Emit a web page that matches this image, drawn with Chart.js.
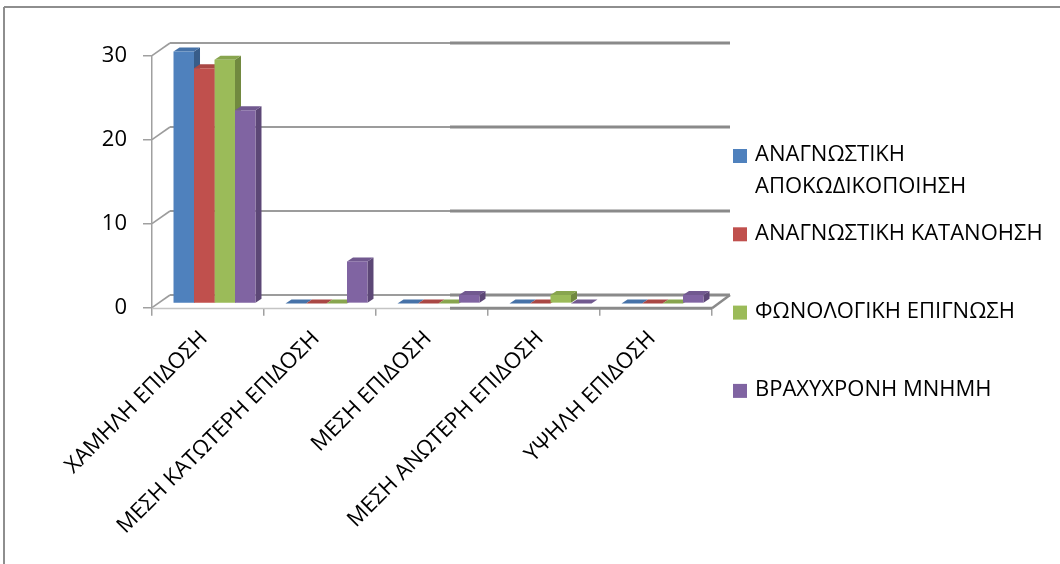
<!DOCTYPE html>
<html>
<head>
<meta charset="utf-8">
<script src="https://cdn.jsdelivr.net/npm/chart.js@4.4.1/dist/chart.umd.min.js"></script>
<style>
  html, body { margin: 0; padding: 0; background: #ffffff; }
  #wrap { width: 1060px; height: 564px; }
</style>
</head>
<body>
<div id="wrap"><canvas id="chart" width="1060" height="564"></canvas></div>
<script>
// Performance levels on the x axis
const categories = ['ΧΑΜΗΛΗ ΕΠΙΔΟΣΗ', 'ΜΕΣΗ ΚΑΤΩΤΕΡΗ ΕΠΙΔΟΣΗ', 'ΜΕΣΗ ΕΠΙΔΟΣΗ', 'ΜΕΣΗ ΑΝΩΤΕΡΗ ΕΠΙΔΟΣΗ', 'ΥΨΗΛΗ ΕΠΙΔΟΣΗ'];
// Series names
const seriesNames = ['ΑΝΑΓΝΩΣΤΙΚΗ ΑΠΟΚΩΔΙΚΟΠΟΙΗΣΗ', 'ΑΝΑΓΝΩΣΤΙΚΗ ΚΑΤΑΝΟΗΣΗ', 'ΦΩΝΟΛΟΓΙΚΗ ΕΠΙΓΝΩΣΗ', 'ΒΡΑΧΥΧΡΟΝΗ ΜΝΗΜΗ'];
// Number of pupils per level, one array per test
const decoding = [30, 0, 0, 0, 0];
const comprehension = [28, 0, 0, 0, 0];
const phonological = [29, 0, 0, 1, 0];
const shortTermMemory = [23, 5, 1, 0, 1];
// Value axis
const yMin = 0, yMax = 30, yStep = 10;

const seriesValues = [decoding, comprehension, phonological, shortTermMemory];
const frontColors = ['#4F81BD', '#C0504D', '#9BBB59', '#8064A2'];
const topColors   = ['#4672A8', '#A94744', '#88A54E', '#71598F'];
const sideColors  = ['#385D8A', '#8C3836', '#71893F', '#5C4776'];

const FONT = '"Open Sans", "DejaVu Sans", sans-serif';

// 3D look: depth of the walls and of the bars, in pixels
const wallDX = 18, wallDY = 12.7;
const barShiftX = 6.5, barShiftY = 4.3;
const barDX = 6, barDY = 4;

const lightLine = '#9C9C9C';
const darkLine = '#8A8A8A';

function poly(ctx, pts, fill) {
  ctx.beginPath();
  ctx.moveTo(pts[0][0], pts[0][1]);
  for (let i = 1; i < pts.length; i++) ctx.lineTo(pts[i][0], pts[i][1]);
  ctx.closePath();
  ctx.fillStyle = fill;
  ctx.fill();
}

function seg(ctx, x1, y1, x2, y2, color, w) {
  ctx.beginPath();
  ctx.moveTo(x1, y1);
  ctx.lineTo(x2, y2);
  ctx.strokeStyle = color;
  ctx.lineWidth = w;
  ctx.stroke();
}

const box3d = {
  id: 'box3d',
  beforeDraw(chart) {
    const ctx = chart.ctx;
    ctx.save();
    ctx.fillStyle = '#ffffff';
    ctx.fillRect(0, 0, chart.width, chart.height);
    // outer frame (top and left edges)
    seg(ctx, 4, 7, chart.width, 7, '#8E8E8E', 2);
    seg(ctx, 4, 7, 4, chart.height, '#8E8E8E', 2);
    ctx.restore();
  },
  beforeDatasetsDraw(chart) {
    const ctx = chart.ctx;
    const area = chart.chartArea;
    const ys = chart.scales.y;
    const backL = area.left + wallDX, backR = area.right + wallDX;
    const split = Math.round((backL + backR) / 2);
    ctx.save();
    // side wall and back wall gridlines
    ys.ticks.forEach(t => {
      const y = ys.getPixelForValue(t.value);
      const yb = Math.round(y - wallDY);
      seg(ctx, area.left, y, backL, yb, lightLine, 1.6);
      seg(ctx, backL, yb, split, yb, lightLine, 2);
      seg(ctx, split, yb, backR, yb, darkLine, 3);
    });
    // floor front and right edges
    const y0 = ys.getPixelForValue(yMin);
    seg(ctx, area.left, Math.round(y0) + 0.5, split, Math.round(y0) + 0.5, '#C4C4C4', 1.5);
    seg(ctx, split, y0 + 0.5, area.right, y0 + 0.5, darkLine, 3);
    seg(ctx, area.right, y0 + 0.5, backR, y0 - wallDY, darkLine, 2.5);
    ctx.restore();

    // side and top faces of the bars, drawn left to right
    ctx.save();
    ctx.translate(barShiftX, -barShiftY);
    const metas = chart.getSortedVisibleDatasetMetas().slice().sort((a, b) => a.index - b.index);
    for (let i = 0; i < categories.length; i++) {
      metas.forEach(meta => {
        const el = meta.data[i];
        if (!el) return;
        const p = el.getProps(['x', 'y', 'base', 'width'], true);
        const l = p.x - p.width / 2, r = p.x + p.width / 2;
        const top = Math.min(p.y, p.base), bot = Math.max(p.y, p.base);
        poly(ctx, [[r, top], [r + barDX, top - barDY], [r + barDX, bot - barDY], [r, bot]], sideColors[meta.index]);
        poly(ctx, [[l, top], [r, top], [r + barDX, top - barDY], [l + barDX, top - barDY]], topColors[meta.index]);
      });
    }
    ctx.restore();
    // front faces are drawn by the library with the same depth shift
    ctx.save();
    ctx.translate(barShiftX, -barShiftY);
  },
  afterDatasetsDraw(chart) {
    chart.ctx.restore();
  },
  afterDraw(chart) {
    // legend at the right
    const ctx = chart.ctx;
    const boxX = 733, textX = 755, firstY = 156, step = 78.3, lineH = 32, boxSize = 14, maxW = 300;
    ctx.save();
    ctx.font = '22px ' + FONT;
    ctx.textBaseline = 'middle';
    ctx.textAlign = 'left';
    seriesNames.forEach((name, k) => {
      const words = name.split(' ');
      const lines = [];
      let cur = '';
      words.forEach(w => {
        const test = cur ? cur + ' ' + w : w;
        if (cur && ctx.measureText(test).width > maxW) { lines.push(cur); cur = w; }
        else cur = test;
      });
      if (cur) lines.push(cur);
      const y = firstY + k * step;
      ctx.fillStyle = frontColors[k];
      ctx.fillRect(boxX, y - boxSize / 2, boxSize, boxSize);
      ctx.fillStyle = '#000000';
      lines.forEach((ln, j) => ctx.fillText(ln, textX, y - 1 + j * lineH));
    });
    ctx.restore();
  }
};

new Chart(document.getElementById('chart'), {
  type: 'bar',
  data: {
    labels: categories,
    datasets: seriesValues.map((vals, k) => ({
      label: seriesNames[k],
      data: vals,
      backgroundColor: frontColors[k],
      borderWidth: 0,
      categoryPercentage: 0.732,
      barPercentage: 1.0,
      clip: false
    }))
  },
  options: {
    responsive: false,
    animation: false,
    events: [],
    layout: { padding: { left: 0, top: 55.7, right: 348, bottom: 0 } },
    plugins: { legend: { display: false }, tooltip: { enabled: false } },
    scales: {
      x: {
        offset: true,
        grid: { drawOnChartArea: false, drawTicks: true, tickLength: 8, color: '#A0A0A0', lineWidth: 1.5, offset: true },
        border: { display: false },
        ticks: { minRotation: 45, maxRotation: 45, autoSkip: false, color: '#000000', padding: 10, labelOffset: -4, font: { family: FONT, size: 22 } },
        afterFit(scale) { scale.height = 256.3; }
      },
      y: {
        min: yMin, max: yMax,
        grid: { drawOnChartArea: false, drawTicks: true, tickLength: 9, color: '#A0A0A0', lineWidth: 1.5 },
        border: { display: true, color: '#A0A0A0', width: 1.5 },
        ticks: { stepSize: yStep, color: '#000000', padding: 16, font: { family: FONT, size: 22 } },
        afterFit(scale) { scale.width = 152; }
      }
    }
  },
  plugins: [box3d]
});
</script>
</body>
</html>
